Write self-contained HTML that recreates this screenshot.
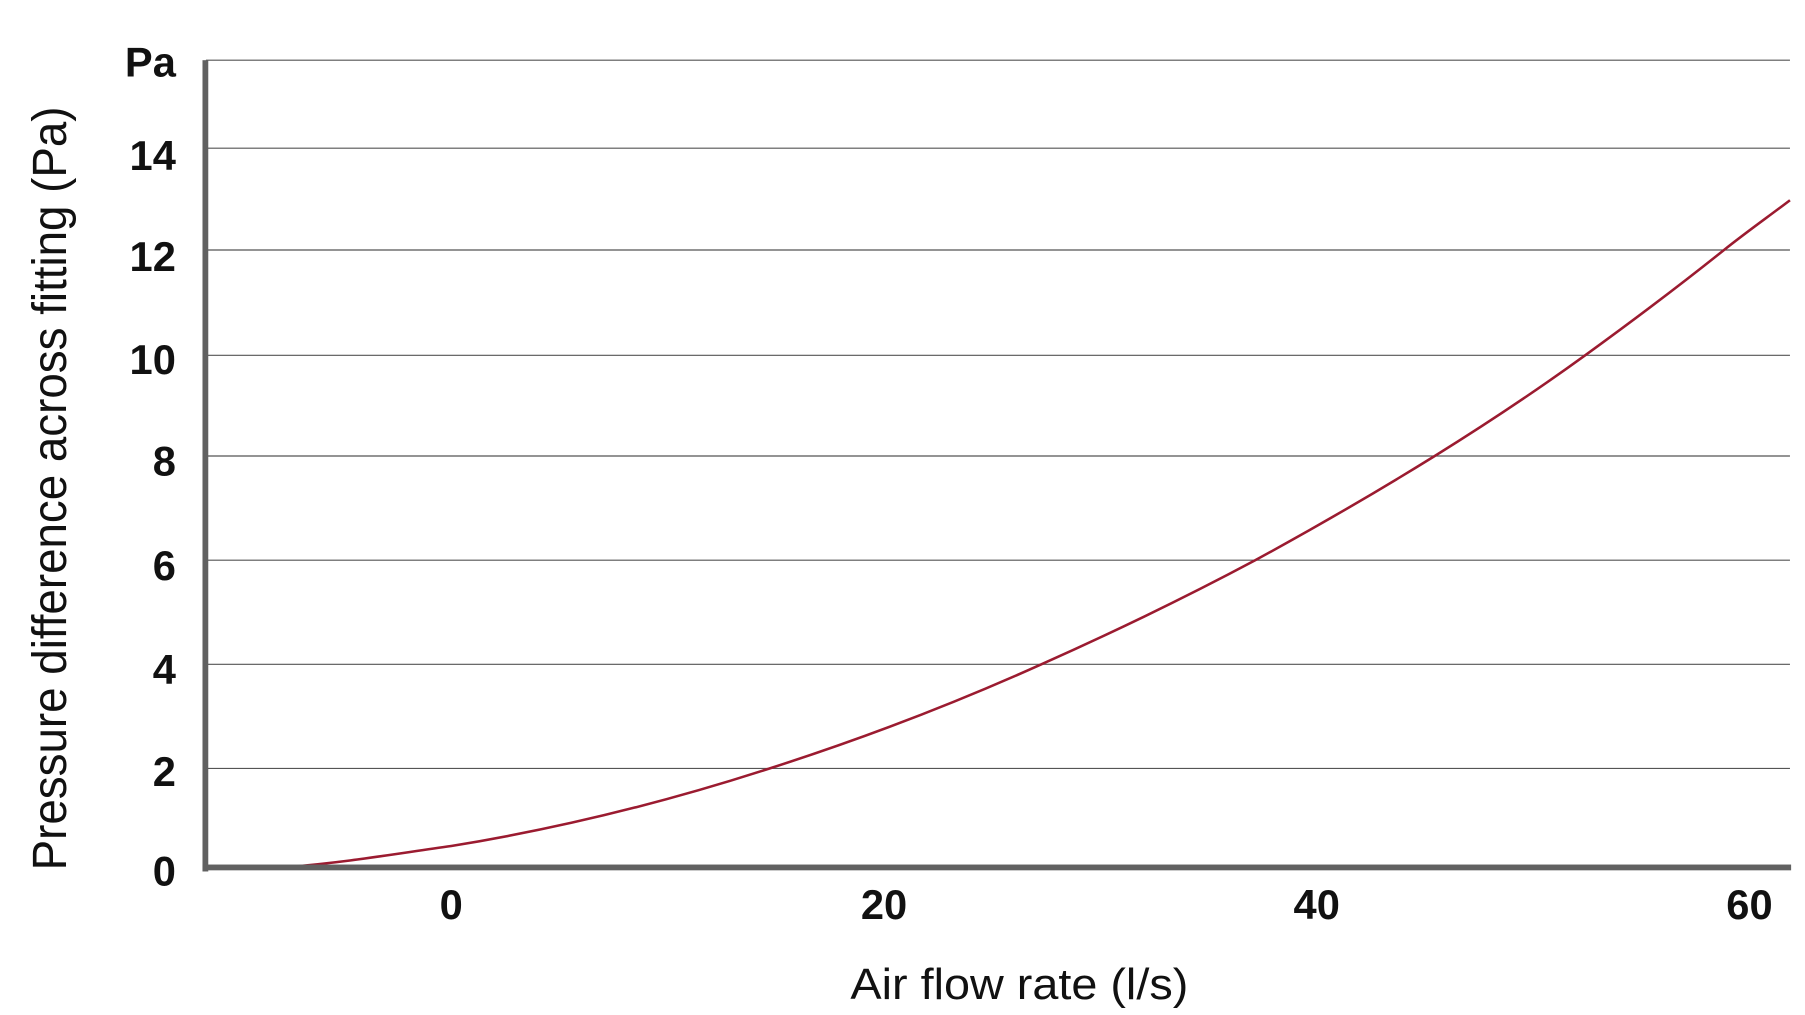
<!DOCTYPE html>
<html><head><style>html,body{margin:0;padding:0;background:#fff;width:1805px;height:1015px;overflow:hidden}</style></head>
<body>
<svg width="1805" height="1015" viewBox="0 0 1560 877" preserveAspectRatio="none" xmlns="http://www.w3.org/2000/svg" font-family="'Liberation Sans', sans-serif">
<g stroke="#555" stroke-width="1">
<line x1="178" y1="52" x2="1547" y2="52"/>
<line x1="178" y1="128" x2="1547" y2="128"/>
<line x1="178" y1="216" x2="1547" y2="216"/>
<line x1="178" y1="307" x2="1547" y2="307"/>
<line x1="178" y1="394" x2="1547" y2="394"/>
<line x1="178" y1="484" x2="1547" y2="484"/>
<line x1="178" y1="574" x2="1547" y2="574"/>
<line x1="178" y1="664" x2="1547" y2="664"/>
</g>
<path d="M178,750 L250,749 C300,745 340,738 390,731 C470,718 560,698 665,664 C740,640 820,610 900,574 C965,545 1025,516 1085,484 C1140,454 1190,425 1240,394 C1285,366 1330,336 1370,307 C1410,278 1450,248 1490,216 C1510,200 1530,186 1547,173" fill="none" stroke="#9b1b30" stroke-width="2.2"/>
<rect x="175" y="52" width="5" height="701" fill="#616161"/>
<rect x="175" y="747" width="1373" height="5" fill="#616161"/>
<g font-size="36" font-weight="bold" fill="#111" text-anchor="end">
<text x="152" y="66">Pa</text>
<text x="152" y="147">14</text>
<text x="152" y="234">12</text>
<text x="152" y="323">10</text>
<text x="152" y="411">8</text>
<text x="152" y="501">6</text>
<text x="152" y="591">4</text>
<text x="152" y="679">2</text>
<text x="152" y="765">0</text>
</g>
<g font-size="36" font-weight="bold" fill="#111" text-anchor="middle">
<text x="390" y="794">0</text>
<text x="764" y="794">20</text>
<text x="1138" y="794">40</text>
<text x="1512" y="794">60</text>
</g>
<text x="881" y="863" font-size="38" fill="#111" text-anchor="middle" textLength="292" lengthAdjust="spacingAndGlyphs">Air flow rate (l/s)</text>
<text transform="translate(57,422) rotate(-90)" font-size="42" fill="#111" text-anchor="middle" textLength="660" lengthAdjust="spacingAndGlyphs">Pressure difference across fitting (Pa)</text>
</svg>
</body></html>
